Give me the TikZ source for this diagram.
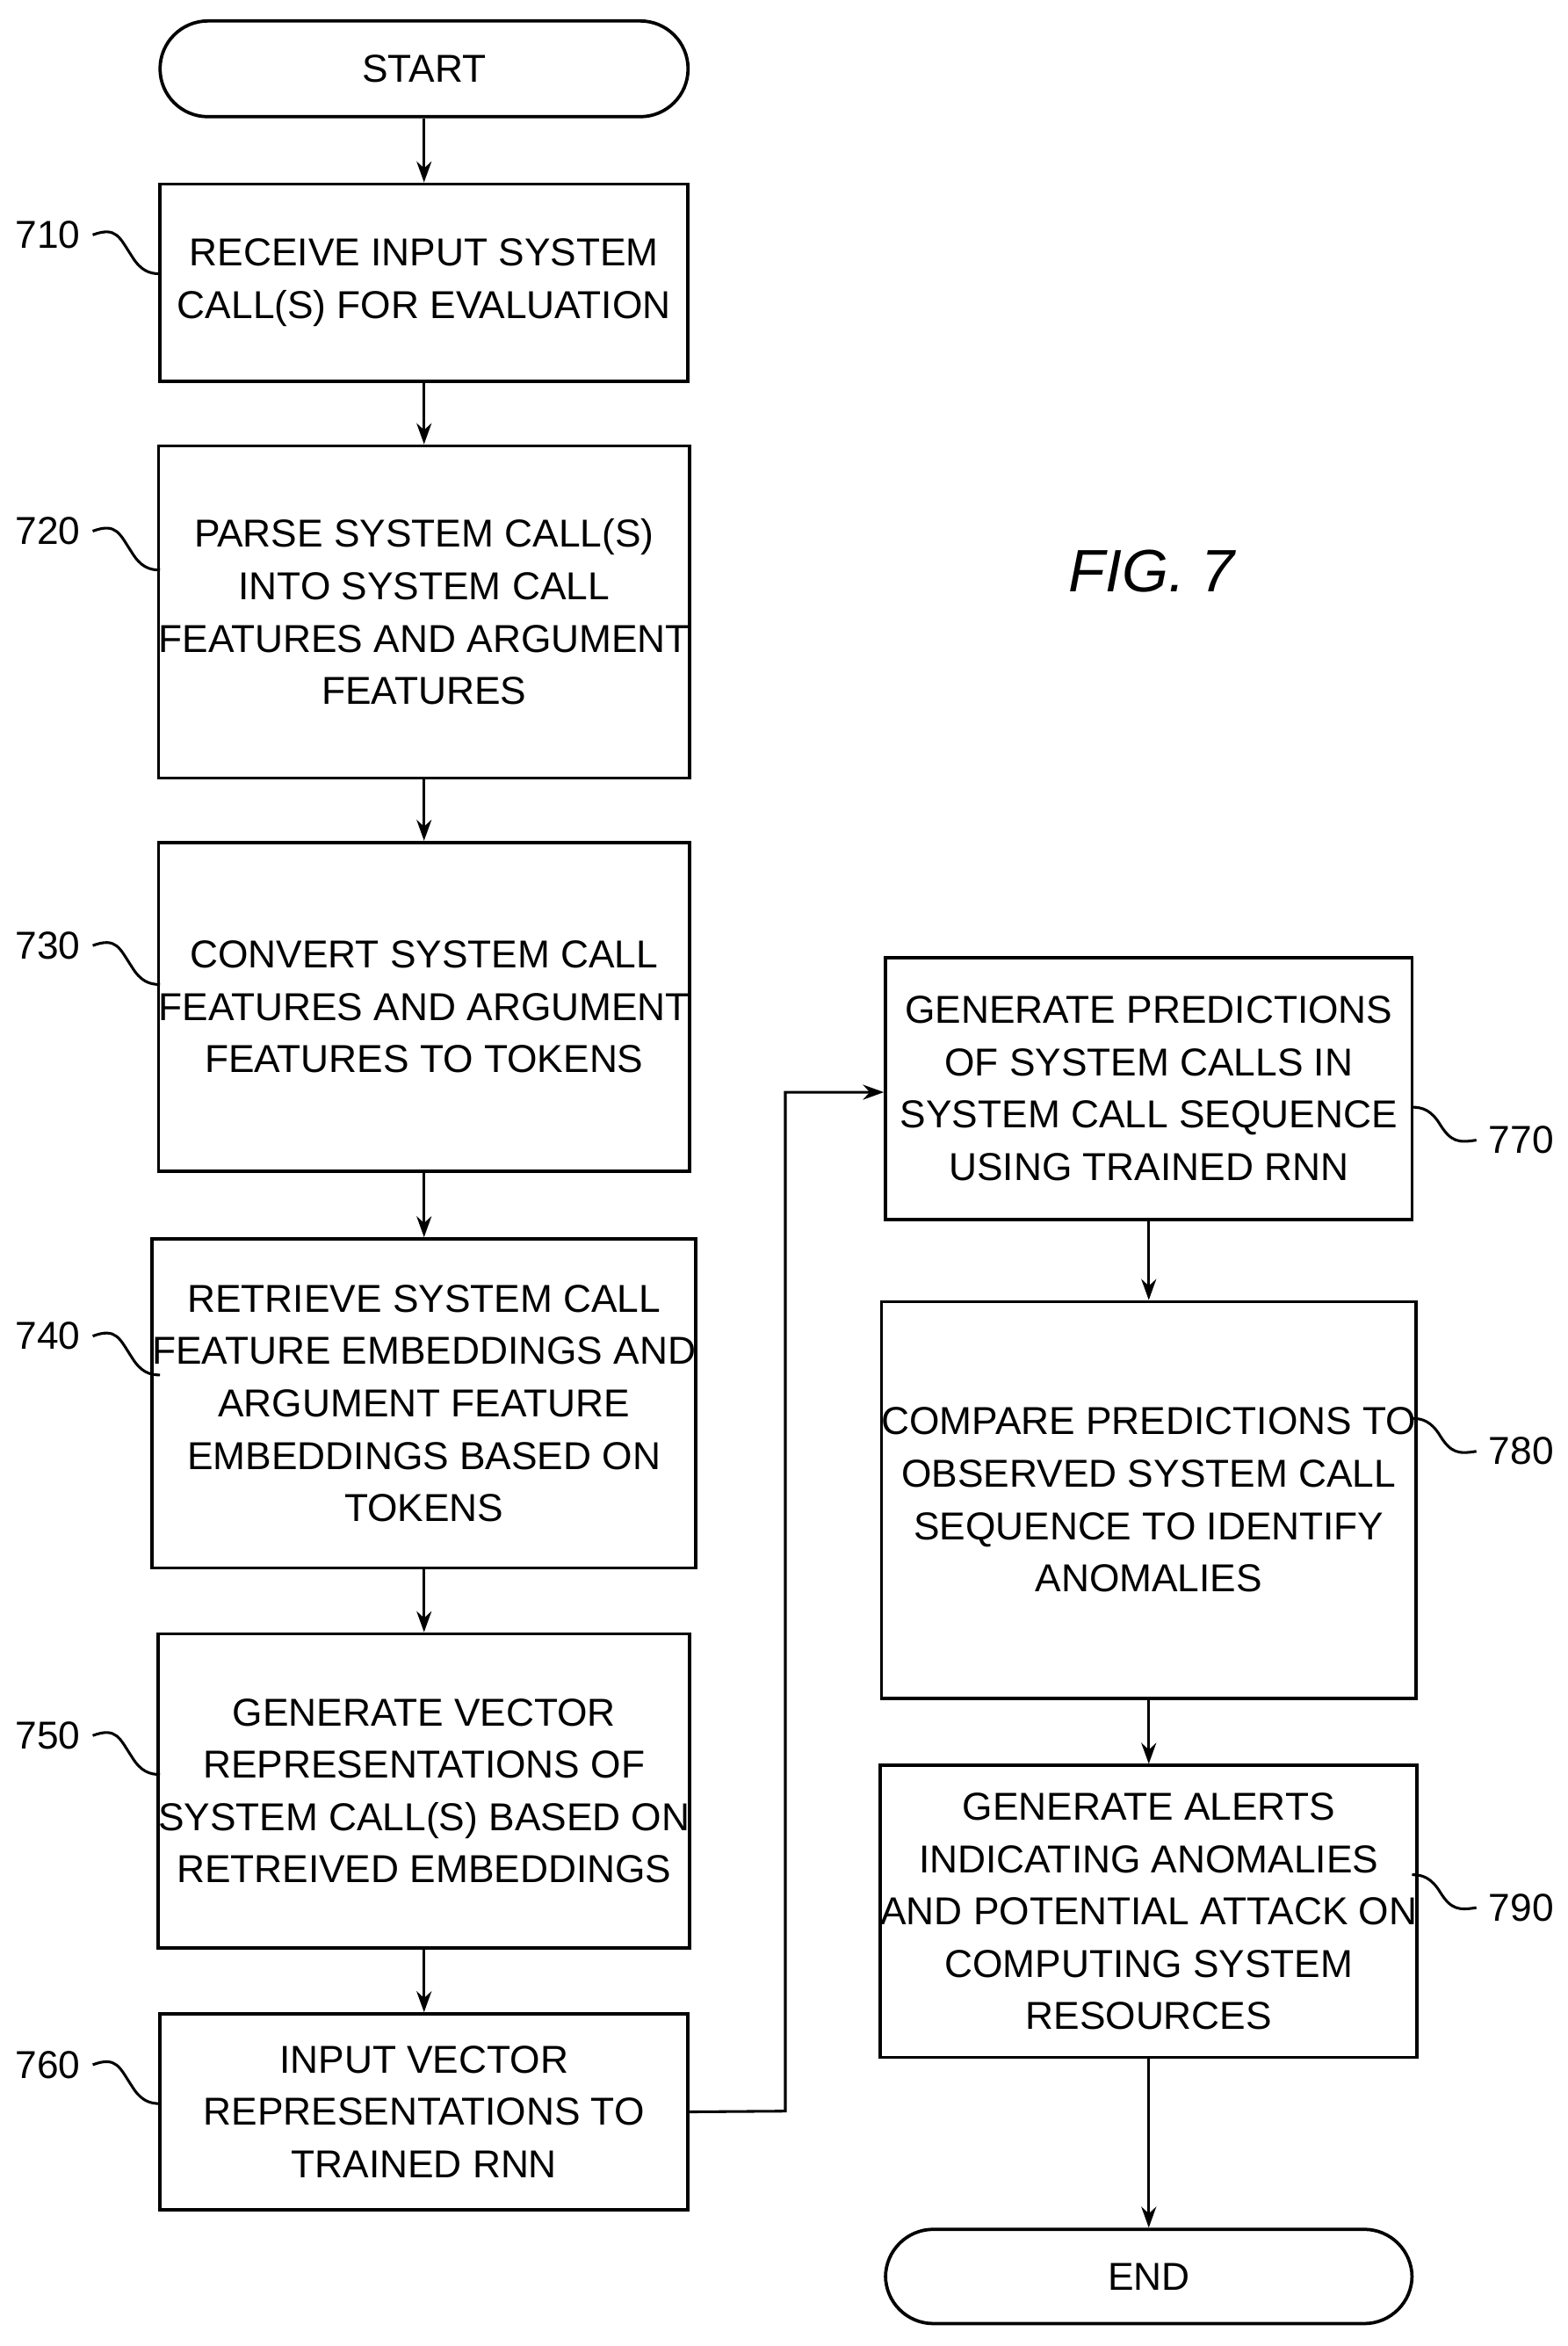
\documentclass[tikz,border=0pt]{standalone}
\usepackage{fontspec}
\setmainfont{Liberation Sans}
\usetikzlibrary{arrows.meta}
\begin{document}
\begin{tikzpicture}[x=0.5pt,y=-0.5pt,
  box/.style={draw,line width=1.1pt,inner sep=0pt,align=center,font=\fontsize{13}{17.5}\selectfont},
  term/.style={box,rounded corners=16pt},
  arr/.style={-{Stealth[length=7pt,width=5pt]},line width=0.9pt},
  lbl/.style={font=\fontsize{13}{16}\selectfont},
  sq/.style={line width=0.9pt}]
\useasboundingbox (0,0) rectangle (1048,1568);
\newcommand{\bx}[6]{\node[#1,minimum width={(#4-#3)*0.5pt},minimum height={(#6-#5)*0.5pt}] (#2) at ({(#3+#4)/2},{(#5+#6)/2})}
\bx{term}{s}{107}{460}{14}{78}{START};
\bx{box}{b710}{107}{460}{123}{255}{RECEIVE INPUT SYSTEM\\CALL(S) FOR EVALUATION};
\bx{box}{b720}{107}{460}{298}{520}{PARSE SYSTEM CALL(S)\\INTO SYSTEM CALL\\FEATURES AND ARGUMENT\\FEATURES};
\bx{box}{b730}{107}{460}{563}{783}{CONVERT SYSTEM CALL\\FEATURES AND ARGUMENT\\FEATURES TO TOKENS};
\bx{box}{b740}{107}{460}{828}{1048}{RETRIEVE SYSTEM CALL\\FEATURE EMBEDDINGS AND\\ARGUMENT FEATURE\\EMBEDDINGS BASED ON\\TOKENS};
\bx{box}{b750}{107}{460}{1092}{1302}{GENERATE VECTOR\\REPRESENTATIONS OF\\SYSTEM CALL(S) BASED ON\\RETREIVED EMBEDDINGS};
\bx{box}{b760}{107}{460}{1346}{1477}{INPUT VECTOR\\REPRESENTATIONS TO\\TRAINED RNN};
\bx{box}{b770}{592}{944}{640}{815}{GENERATE PREDICTIONS\\OF SYSTEM CALLS IN\\SYSTEM CALL SEQUENCE\\USING TRAINED RNN};
\bx{box}{b780}{592}{944}{870}{1135}{COMPARE PREDICTIONS TO\\OBSERVED SYSTEM CALL\\SEQUENCE TO IDENTIFY\\ANOMALIES};
\bx{box}{b790}{592}{944}{1180}{1375}{GENERATE ALERTS\\INDICATING ANOMALIES\\AND POTENTIAL ATTACK ON\\COMPUTING SYSTEM\\RESOURCES};
\bx{term}{e}{592}{944}{1490}{1553}{END};
\node[font=\fontsize{20}{24}\selectfont\rmfamily\itshape] (fig) at (770,382) {FIG. 7};
\draw[arr] (s) -- (b710);
\draw[arr] (b710) -- (b720);
\draw[arr] (b720) -- (b730);
\draw[arr] (b730) -- (b740);
\draw[arr] (b740) -- (b750);
\draw[arr] (b750) -- (b760);
\draw[arr] (b760.east) -- (525,1411) -- (525,730) -- (b770.west |- 0,730);
\draw[arr] (b770) -- (b780);
\draw[arr] (b780) -- (b790);
\draw[arr] (b790) -- (e);
% left labels
\foreach \n/\y in {710/157,720/355,730/632,740/893,750/1160,760/1380}{
  \node[lbl] (l\n) at (32,\y) {\n};
  \draw[sq] (62,\y) .. controls (78,\y-6) and (80,\y+2) .. (88,\y+14) .. controls (94,\y+24) and (100,\y+26) .. (107,\y+26);
}
\foreach \n/\y in {770/762,780/970,790/1275}{
  \node[lbl] (l\n) at (1017,\y) {\n};
  \draw[sq] (944,\y-22) .. controls (951,\y-22) and (957,\y-20) .. (963,\y-10) .. controls (970,\y+1) and (975,\y+2) .. (987,\y);
}
\end{tikzpicture}
\end{document}
